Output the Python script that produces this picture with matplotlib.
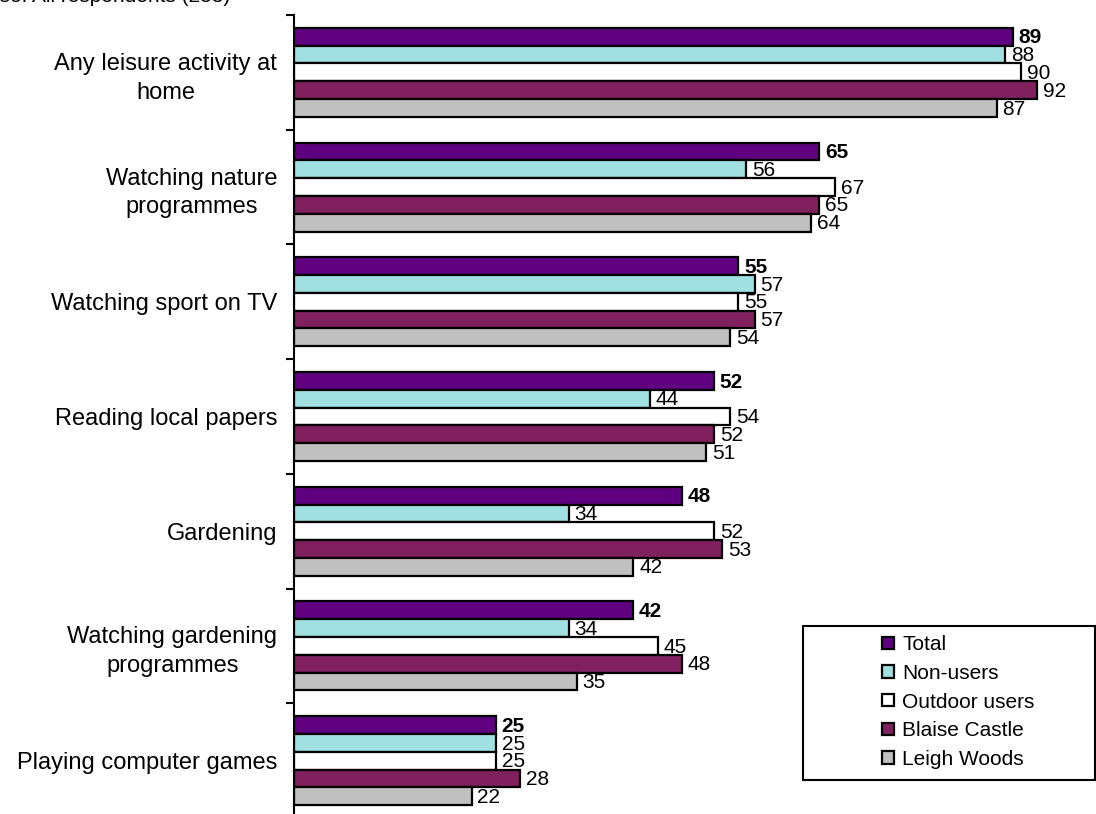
import numpy as np
import matplotlib.pyplot as plt
from matplotlib.patches import Rectangle

plt.rcParams['font.family'] = ['Liberation Sans', 'DejaVu Sans']

categories = ['Any leisure activity at\nhome', 'Watching nature\nprogrammes',
              'Watching sport on TV', 'Reading local papers', 'Gardening',
              'Watching gardening\nprogrammes', 'Playing computer games']
series = ['Total', 'Non-users', 'Outdoor users', 'Blaise Castle', 'Leigh Woods']
total = [89, 65, 55, 52, 48, 42, 25]
non_users = [88, 56, 57, 44, 34, 34, 25]
outdoor = [90, 67, 55, 54, 52, 45, 25]
blaise = [92, 65, 57, 52, 53, 48, 28]
leigh = [87, 64, 54, 51, 42, 35, 22]
colors = ['#5f0080', '#a0e0e0', '#ffffff', '#80205f', '#c0c0c0']

values = [total, non_users, outdoor, blaise, leigh]

W, H = 1096, 814
fig = plt.figure(figsize=(W / 100, H / 100), dpi=100)
ax = fig.add_axes([294 / W, (H - 818) / H, 808 / W, 803 / H])

y = np.arange(len(categories))
h = 0.155
handles = []
for k, (name, vals, col) in enumerate(zip(series, values, colors)):
    pos = y - 2 * h + k * h
    bars = ax.barh(pos, vals, height=h, color=col, edgecolor='black',
                   linewidth=1.6, label=name)
    handles.append(bars)
    for p, v in zip(pos, vals):
        ax.text(v + 0.7, p + 0.01, str(v), va='center', ha='left',
                fontsize=15, fontweight='bold' if k == 0 else 'normal')

ax.set_xlim(0, 100)
ax.set_ylim(len(categories) - 0.5, -0.5)

ax.set_yticks(y)
ax.set_yticklabels(categories, fontsize=17)
for lbl in ax.get_yticklabels():
    lbl.set_multialignment('center')
    lbl.set_linespacing(1.4)
ax.set_yticks(np.arange(len(categories) + 1) - 0.5, minor=True)
ax.tick_params(axis='y', which='major', length=0, pad=12)
ax.tick_params(axis='y', which='minor', length=6, width=1.5, direction='out')
ax.set_xticks([])
for s in ['top', 'right', 'bottom']:
    ax.spines[s].set_visible(False)
ax.spines['left'].set_linewidth(1.5)

# legend frame and entries
fig.patches.append(Rectangle((803 / W, (H - 780) / H), 292 / W, 154 / H,
                             transform=fig.transFigure, facecolor='white',
                             edgecolor='black', linewidth=1.5, zorder=5))
leg = fig.legend(handles, series, loc='upper left',
                 bbox_to_anchor=(872 / W, (H - 625) / H),
                 frameon=False, fontsize=15,
                 handlelength=0.55, handleheight=0.55, handletextpad=0.4,
                 labelspacing=0.46, borderpad=0)
leg.set_zorder(6)

fig.text(-26 / W, (H - 2) / H, 'Base: All respondents (253)', fontsize=15,
         va='baseline', ha='left')

plt.savefig('out.png', dpi=100)
